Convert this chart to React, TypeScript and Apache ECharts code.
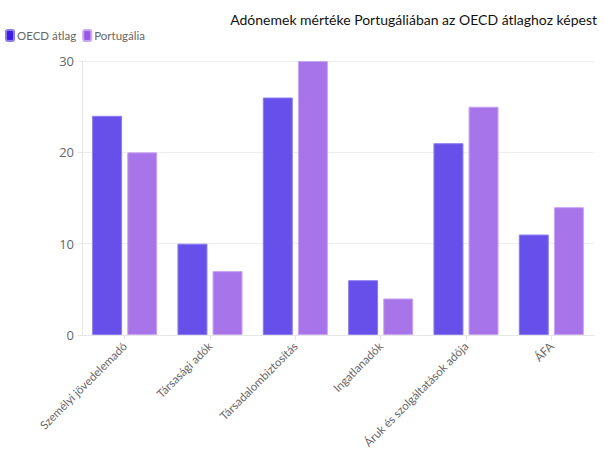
import React, { useEffect, useRef } from "react";
import * as echarts from "echarts";

const categories = [
  "Személyi jövedelemadó",
  "Társasági adók",
  "Társadalombiztosítás",
  "Ingatlanadók",
  "Áruk és szolgáltatások adója",
  "ÁFA",
];
const oecdValues = [24, 10, 26, 6, 21, 11];
const portugalValues = [20, 7, 30, 4, 25, 14];
const yTicks = [0, 10, 20, 30];

export default function App() {
  const ref = useRef<HTMLDivElement>(null);
  useEffect(() => {
    if (!ref.current) return;
    const chart = echarts.init(ref.current, undefined, { renderer: "svg" });
    chart.setOption({
      animation: false,
      textStyle: { fontFamily: "Lato" },
      title: {
        text: "Adónemek mértéke Portugáliában az OECD átlaghoz képest",
        right: 8,
        top: 12,
        padding: 0,
        textStyle: { fontFamily: "Lato", fontSize: 14, fontWeight: "normal", color: "#111" },
      },
      legend: {
        left: 5,
        top: 29,
        padding: 0,
        itemWidth: 8,
        itemHeight: 11,
        itemGap: 6,
        icon: "roundRect",
        textStyle: { color: "#666", fontSize: 11.5, fontFamily: "Lato", padding: [0, 0, 0, -2] },
        data: [
          { name: "OECD átlag", itemStyle: { color: "#3B1EE2", opacity: 1 } },
          { name: "Portugália", itemStyle: { color: "#9B56E8", opacity: 1 } },
        ],
      },
      grid: { left: 82, right: 11, top: 61, bottom: 126 },
      xAxis: {
        type: "category",
        data: categories,
        axisLine: { show: true, lineStyle: { color: "#e6e6e6" } },
        axisTick: { show: true, alignWithLabel: true, length: 5, lineStyle: { color: "#e6e6e6" } },
        axisLabel: { rotate: 45, color: "#666", fontSize: 11.5, fontFamily: "Lato", interval: 0, margin: 9 },
      },
      yAxis: {
        type: "value",
        min: yTicks[0],
        max: yTicks[yTicks.length - 1],
        interval: 10,
        axisLine: { show: true, lineStyle: { color: "#e6e6e6" } },
        axisTick: { show: true, length: 4, lineStyle: { color: "#e6e6e6" } },
        axisLabel: { color: "#666", fontSize: 13, fontFamily: "Open Sans", margin: 8 },
        splitLine: { lineStyle: { color: "#eeeeee" } },
      },
      series: [
        {
          name: "OECD átlag",
          type: "bar",
          data: oecdValues,
          barWidth: 30,
          barGap: "17%",
          itemStyle: { color: "#6650E9", borderColor: "#8C7CF0", borderWidth: 1 },
        },
        {
          name: "Portugália",
          type: "bar",
          data: portugalValues,
          barWidth: 30,
          itemStyle: { color: "#A775E9", borderColor: "#C8A6F2", borderWidth: 1 },
        },
      ],
    });
    return () => chart.dispose();
  }, []);
  return <div ref={ref} style={{ width: 605, height: 461, position: "absolute", left: 0, top: 0 }} />;
}
